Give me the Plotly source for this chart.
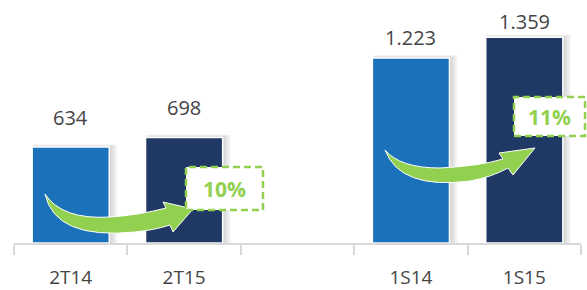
import plotly.graph_objects as go

# ---- data ----
categories = ["2T14", "2T15", " ", "1S14", "1S15"]
values = [634, 698, None, 1223, 1359]
pairs = [(0, 1), (3, 4)]  # (from, to) index for growth boxes

# ---- styles ----
LIGHT = "#1B72BA"
DARK = "#1F3864"
GREEN = "#92D050"
TXT = "#444444"
FONT = "Open Sans"
bar_colors = [LIGHT, DARK, LIGHT, LIGHT, DARK]
label_shift = [30, 30, 0, 20, 16]
BAR_W = 0.68

W, H = 587, 290
L, R, T, B = 14, 6, 0, 47
PW, PH = W - L - R, H - T - B
XR = [-0.5, 4.5]
YR = [0, 1606]
UX = (XR[1] - XR[0]) / PW  # category units per px
UY = (YR[1] - YR[0]) / PH  # data units per px


def px(x, y):
    return (x - L) / PW, (H - B - y) / PH


def path(cmds):
    out = []
    for c in cmds:
        if isinstance(c, str):
            out.append(c)
        else:
            xx, yy = px(*c)
            out.append(f"{xx:.5f},{yy:.5f}")
    return " ".join(out)


fig = go.Figure(
    go.Bar(
        x=categories,
        y=values,
        width=BAR_W,
        marker=dict(color=bar_colors, line=dict(color="white", width=1.5)),
        hoverinfo="skip",
    )
)

# soft shadows behind bars
for i, v in enumerate(values):
    if v is None:
        continue
    for k in [2, 4, 6, 8]:
        fig.add_shape(
            type="rect", xref="x", yref="y", layer="below",
            x0=i - BAR_W / 2 + 1 * UX, x1=i + BAR_W / 2 + k * UX,
            y0=-k * 0.6 * UY, y1=v + k * 0.35 * UY,
            fillcolor="rgba(0,0,0,0.045)", line=dict(width=0),
        )

# value labels
for i, (c, v) in enumerate(zip(categories, values)):
    if v is None:
        continue
    fig.add_annotation(
        x=c, y=v, text=f"{v:,}".replace(",", "."), showarrow=False,
        yanchor="middle", yshift=label_shift[i],
        font=dict(family=FONT, size=20, color=TXT),
    )

# arrows (decoration)
arrow_paths = [
    ["M", (45, 194), "Q", (55, 240), (135, 232), "Q", (155, 230), (170, 225),
     "L", (173, 232), "L", (193, 209), "L", (163, 202), "L", (166, 208),
     "Q", (140, 215), (110, 217), "Q", (62, 220), (45, 194), "Z"],
    ["M", (385, 150), "Q", (400, 190), (470, 181), "Q", (492, 177), (508, 168),
     "L", (513, 175), "L", (535, 148), "L", (499, 153), "L", (503, 159),
     "Q", (480, 166), (440, 168), "Q", (400, 168), (385, 150), "Z"],
]
for p in arrow_paths:
    fig.add_shape(type="path", xref="paper", yref="paper", path=path(p),
                  fillcolor=GREEN, line=dict(color="white", width=1), layer="above")

boxes = [(186, 167, 263, 210), (514, 97, 585, 136)]
for (a, b), (x0, y0, x1, y1) in zip(pairs, boxes):
    p0 = px(x0, y0)
    p1 = px(x1, y1)
    fig.add_shape(type="rect", xref="paper", yref="paper",
                  x0=p0[0], y0=p1[1], x1=p1[0], y1=p0[1],
                  fillcolor="white", line=dict(color=GREEN, width=2.5, dash="7px,4px"),
                  layer="above")
    g = round((values[b] / values[a] - 1) * 100)
    cx, cy = px((x0 + x1) / 2, (y0 + y1) / 2)
    fig.add_annotation(xref="paper", yref="paper", x=cx, y=cy, text=f"<b>{g}%</b>",
                       showarrow=False, xanchor="center", yanchor="middle",
                       font=dict(family=FONT, size=21, color=GREEN))

fig.update_layout(
    width=W, height=H,
    margin=dict(l=L, r=R, t=T, b=B),
    paper_bgcolor="white", plot_bgcolor="white",
    showlegend=False,
    xaxis=dict(
        type="category", range=XR, showline=True, linecolor="#D9D9D9",
        linewidth=2, ticks="outside", ticklen=10, tickcolor="#D9D9D9", tickwidth=2,
        tickson="boundaries", showgrid=False, ticklabelstandoff=16,
        tickfont=dict(family=FONT, size=19, color=TXT), fixedrange=True,
    ),
    yaxis=dict(range=YR, visible=False, showgrid=False, fixedrange=True),
)

fig.write_html(
    "out.html",
    config={"displayModeBar": False},
    post_script="document.body.style.margin='0';document.body.style.overflow='hidden';",
)
